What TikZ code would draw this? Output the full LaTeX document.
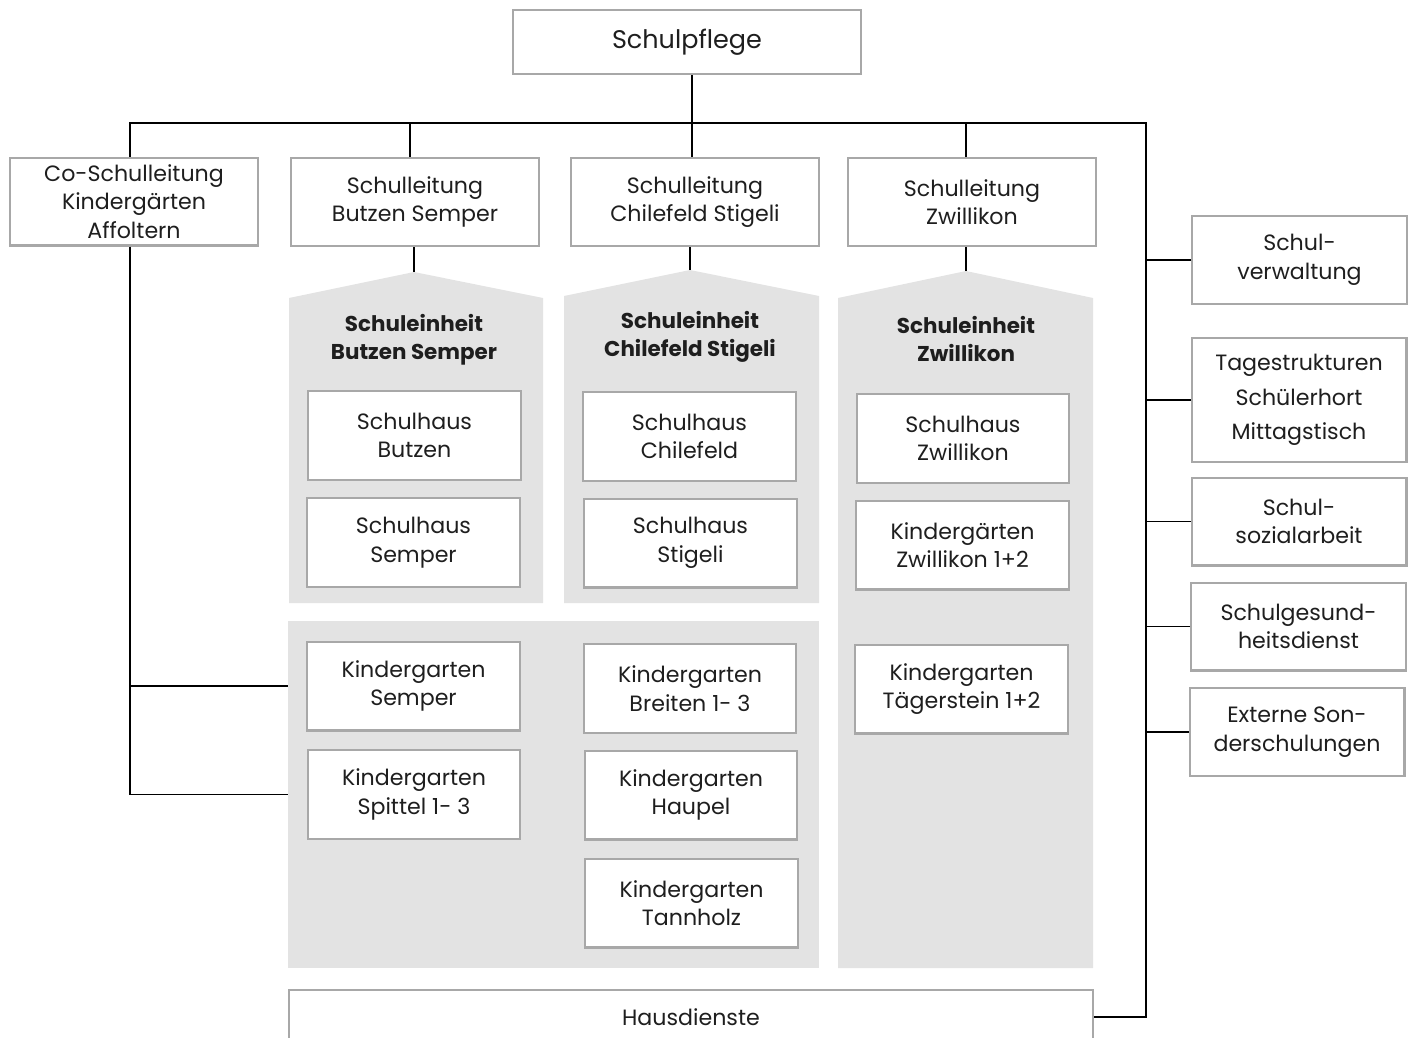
\documentclass[tikz,border=0pt]{standalone}
\usepackage{fontspec}
\setmainfont{Poppins}
\usepackage{tikz}
\usetikzlibrary{positioning, calc}
\definecolor{clrBox}{RGB}{168,168,168}
\definecolor{clrFeld}{RGB}{227,227,227}
\definecolor{clrText}{RGB}{30,30,30}

\begin{document}
\begin{tikzpicture}[
  x=0.02cm, y=-0.02cm,
  box/.style={rectangle, draw=clrBox, line width=1.15pt, fill=white,
              align=center, text=clrText, inner sep=2pt,
              font=\fontsize{12.6}{16.2}\selectfont},
  leitung/.style={box, minimum width=4.96cm, minimum height=1.76cm},
  hausbox/.style={box, minimum width=4.26cm, minimum height=1.78cm},
  dienst/.style={box, minimum width=4.3cm, minimum height=1.76cm},
  titel/.style={align=center, text=clrText,
                font=\fontsize{12.2}{16.2}\selectfont\bfseries},
  feld/.style={fill=clrFeld},
  verb/.style={draw=black, line width=1.1pt}
]
\useasboundingbox (0,0) rectangle (1414,1038);

% Schulpflege und Leitungen
\node[box, minimum width=6.96cm, minimum height=1.28cm,
      font=\fontsize{14.5}{17}\selectfont] (pflege) at (687,42) {Schulpflege};
\node[leitung] (co)   at (134,201.5) {Co-Schulleitung\\Kindergärten\\Affoltern};
\node[leitung] (slBS) at (415,202) {Schulleitung\\Butzen Semper};
\node[leitung] (slCS) at (695,202) {Schulleitung\\Chilefeld Stigeli};
\node[leitung] (slZW) at (972,202) {Schulleitung\\Zwillikon};

\coordinate (busR) at (1146,123);

% Schuleinheiten (graue Felder)
\coordinate (peBS) at (414,272);
\coordinate (peCS) at (690,270);
\coordinate (peZW) at (966,271);
\fill[feld] (289,603) -- (289,298) -- (peBS) -- (543,298) -- (543,603) -- cycle;
\fill[feld] (564,603) -- (564,296) -- (peCS) -- (819,296) -- (819,603) -- cycle;
\fill[feld] (838,968) -- (838,298) -- (peZW) -- (1093,298) -- (1093,968) -- cycle;
\node[feld, minimum width=10.62cm, minimum height=6.94cm, inner sep=0pt] (kgBS) at (553.5,794.5) {};

\node[titel] (tiBS) at (414,340) {Schuleinheit\\Butzen Semper};
\node[titel] (tiCS) at (690,337) {Schuleinheit\\Chilefeld Stigeli};
\node[titel] (tiZW) at (966,339) {Schuleinheit\\Zwillikon};

% Schulhäuser und Kindergärten
\node[hausbox] (shButzen)  at (414.5,435.5) {Schulhaus\\Butzen};
\node[hausbox] (shSemper)  at (413.5,542.5) {Schulhaus\\Semper};
\node[hausbox] (shChile)   at (689.5,436.5) {Schulhaus\\Chilefeld};
\node[hausbox] (shStigeli) at (690.5,543)   {Schulhaus\\Stigeli};
\node[hausbox] (shZwilli)  at (963,438.5)   {Schulhaus\\Zwillikon};
\node[hausbox] (kgZwilli)  at (962.5,545)   {Kindergärten\\Zwillikon 1+2};
\node[hausbox] (kgTaeger)  at (961.5,689)   {Kindergarten\\Tägerstein 1+2};
\node[hausbox] (kgSemper)  at (413.5,686)   {Kindergarten\\Semper};
\node[hausbox] (kgSpittel) at (414,794.5)   {Kindergarten\\Spittel 1- 3};
\node[hausbox] (kgBreiten) at (690,688.5)   {Kindergarten\\Breiten 1- 3};
\node[hausbox] (kgHaupel)  at (691,795)     {Kindergarten\\Haupel};
\node[hausbox] (kgTann)    at (691.5,903)   {Kindergarten\\Tannholz};

% Dienste rechts
\node[dienst] (verw)   at (1299.5,260) {Schul-\\verwaltung};
\node[dienst, minimum height=2.48cm, font=\fontsize{12.6}{19.8}\selectfont]
              (tag)    at (1299,400)   {Tagestrukturen\\Schülerhort\\Mittagstisch};
\node[dienst] (sozial) at (1299,521.5) {Schul-\\sozialarbeit};
\node[dienst] (gesund) at (1298.5,626.5) {Schulgesund-\\heitsdienst};
\node[dienst] (extern) at (1297,732)   {Externe Son-\\derschulungen};

\node[box, minimum width=16.08cm, minimum height=1.08cm] (haus) at (691,1017) {Hausdienste};

% Verbindungen
\draw[verb] ([xshift=-2.3pt]co.north) |- (busR) |- (haus.east);
\draw[verb] ([xshift=2.8pt]pflege.south) -- ([xshift=2.8pt]pflege.south |- busR);
\draw[verb] ([xshift=-2.8pt]slBS.north) -- ([xshift=-2.8pt]slBS.north |- busR);
\draw[verb] ([xshift=-1.7pt]slCS.north) -- ([xshift=-1.7pt]slCS.north |- busR);
\draw[verb] ([xshift=-3.4pt]slZW.north) -- ([xshift=-3.4pt]slZW.north |- busR);
\draw[verb] (peBS |- slBS.south) -- (peBS);
\draw[verb] (peCS |- slCS.south) -- (peCS);
\draw[verb] (peZW |- slZW.south) -- (peZW);
\foreach \n in {verw,tag,sozial,gesund,extern}
  \draw[verb] (\n.west) -- (\n.west -| busR);
\draw[verb] ([xshift=-2.3pt]co.south) |- (kgBS.west |- kgSpittel);
\draw[verb] ([xshift=-2.3pt]co.south |- kgSemper) -- (kgBS.west |- kgSemper);

\end{tikzpicture}
\end{document}
